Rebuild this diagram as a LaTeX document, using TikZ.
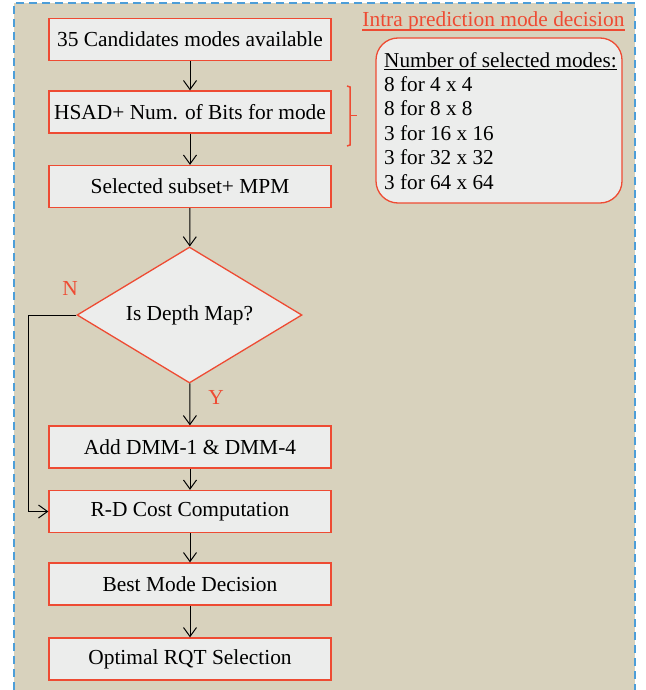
\documentclass[tikz,border=0pt]{standalone}
\usepackage{fontspec}
\setmainfont{Liberation Serif}
\usetikzlibrary{arrows.meta,shapes.geometric}
\definecolor{bgbeige}{HTML}{D8D2BD}
\definecolor{boxfill}{HTML}{ECEDEC}
\definecolor{redline}{HTML}{EE4B33}
\definecolor{dashblue}{HTML}{4D9ED8}
\tikzset{
  x=1pt, y=-1pt,
  stepbox/.style={draw=redline, fill=boxfill, line width=1.3pt, minimum width=282pt, minimum height=42pt, inner sep=0pt, font=\fontsize{21.4}{25}\selectfont},
  decbox/.style={draw=redline, fill=boxfill, line width=1.3pt, shape=diamond, aspect=1.65, minimum width=225pt, minimum height=136pt, inner sep=0pt, font=\fontsize{21.4}{25}\selectfont},
  flow/.style={draw=black, line width=1pt, -{Straight Barb[length=9pt,width=13pt,line width=1pt]}},
  lbl/.style={text=redline, font=\fontsize{21.4}{25}\selectfont, inner sep=0pt},
}
\begin{document}
\begin{tikzpicture}
\useasboundingbox (0,0) rectangle (645,690);
\fill[white] (0,0) rectangle (645,690);
\fill[bgbeige] (14,3) rectangle (635,690);
\draw[dashblue, line width=2pt, dash pattern=on 8pt off 5pt] (14,690) -- (14,3) -- (635,3) -- (635,690);

\node[stepbox] (b1) at (190,39.5) {35 Candidates modes available};
\node[stepbox] (b2) at (190,112) {HSAD+ Num. of Bits for mode};
\node[stepbox] (b3) at (190,186.5) {Selected subset+ MPM};
\node[decbox] (d) at (189.5,315) {Is Depth Map?};
\node[stepbox] (b4) at (190,447) {Add DMM-1 \& DMM-4};
\node[stepbox] (b5) at (190,511.5) {R-D Cost Computation};
\node[stepbox] (b6) at (190,584) {Best Mode Decision};
\node[stepbox] (b7) at (190,659) {Optimal RQT Selection};

\draw[flow] (b1) -- (b2);
\draw[flow] (b2) -- (b3);
\draw[flow] (b3) -- (d);
\draw[flow] (d) -- (b4);
\draw[flow] (b4) -- (b5);
\draw[flow] (b5) -- (b6);
\draw[flow] (b6) -- (b7);
\coordinate (nl) at (28,315);
\draw[flow] (d.west) -- (nl) |- (b5.west);

\node[lbl] (nlab) at (70,288) {N};
\node[lbl] (ylab) at (216,397) {Y};

\node[lbl, anchor=base] (title) at (493.5,27) {Intra prediction mode decision};
\draw[redline, line width=1.2pt] ([yshift=-3pt]title.base west) -- ([yshift=-3pt]title.base east);

\node[draw=redline, fill=boxfill, line width=1.3pt, rounded corners=22pt, minimum width=246pt, minimum height=165pt, inner sep=0pt] (info) at (499,120.5) {};
\node[anchor=north west, align=left, inner sep=0pt, font=\fontsize{21.2}{24.4}\selectfont] (infotext) at (384,52) {\underline{Number of selected modes:}\\8 for 4 x 4\\8 for 8 x 8\\3 for 16 x 16\\3 for 32 x 32\\3 for 64 x 64};

\draw[redline, line width=1.5pt] (347,86) -- (350,87) -- (350,145) -- (347,146);
\draw[redline, line width=1.5pt] (350,115.5) -- (357,115.5);
\end{tikzpicture}
\end{document}
